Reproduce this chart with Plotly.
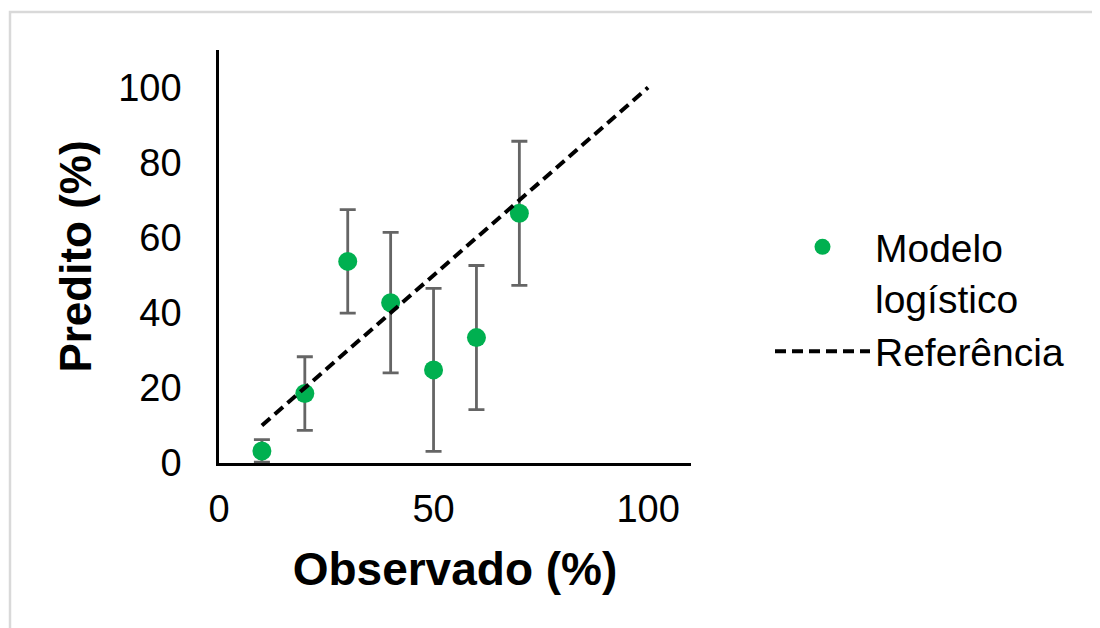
import plotly.graph_objects as go

# Data
observado = [10, 20, 30, 40, 50, 60, 70]
predito = [3.2, 18.5, 53.7, 42.7, 24.8, 33.4, 66.5]
erro = [3.0, 9.8, 13.8, 18.7, 21.7, 19.2, 19.2]
ref_x = [10, 100]
ref_y = [10, 100]
x_ticks = [0, 50, 100]
y_ticks = [0, 20, 40, 60, 80, 100]

FONT = "Liberation Sans, Arial, sans-serif"

fig = go.Figure()
fig.add_trace(go.Scatter(
    x=observado, y=predito, mode="markers", name="Modelo<br>logístico",
    legendgroup="a",
    marker=dict(color="#00b050", size=19),
    error_y=dict(type="data", array=erro, visible=True, color="#656565",
                 thickness=2.8, width=8),
    cliponaxis=False,
))
fig.add_trace(go.Scatter(
    x=ref_x, y=ref_y, mode="lines", name="Referência",
    legendgroup="b",
    line=dict(color="black", width=4, dash="11px,6px"),
))

# page body adds an 8px offset; figure coordinates = screen - 8
OFF = 8
FW, FH = 1100 - OFF, 628 - OFF
L, T = 219 - OFF, 50 - OFF
R = FW - (691 - OFF)
B = FH - (463 - OFF)
W, H = FW - L - R, FH - T - B

def px_x(p):
    return (p - OFF - L) / W

def px_y(p):
    return (FH - B - (p - OFF)) / H

fig.update_layout(
    width=FW, height=FH,
    margin=dict(l=L, r=R, t=T, b=B, autoexpand=False),
    paper_bgcolor="white", plot_bgcolor="white",
    font=dict(family=FONT, size=38, color="black"),
    showlegend=True,
    legend=dict(x=px_x(770), y=px_y(215), xanchor="left", yanchor="top",
                font=dict(size=39, color="black"), itemwidth=95,
                valign="top",
                bgcolor="rgba(0,0,0,0)", tracegroupgap=0),
    xaxis=dict(range=[0, 110], tickvals=x_ticks, showgrid=False, zeroline=False,
               showline=True, linecolor="black", linewidth=2.5,
               ticks="", ticklabelstandoff=11,
               tickfont=dict(size=38),
               title=dict(text="<b>Observado (%)</b>", font=dict(size=46), standoff=24)),
    yaxis=dict(range=[0, 110], tickvals=y_ticks, showgrid=False, zeroline=False,
               showline=True, linecolor="black", linewidth=2.5,
               ticks="", ticklabelstandoff=27,
               tickfont=dict(size=38),
               title=dict(text="<b>Predito (%)</b>", font=dict(size=44), standoff=13)),
    shapes=[dict(type="rect", xref="paper", yref="paper",
                 x0=px_x(10), x1=px_x(1130), y0=px_y(660), y1=px_y(12),
                 line=dict(color="#d9d9d9", width=2.5), fillcolor="rgba(0,0,0,0)",
                 layer="below")],
)

fig.write_html("out.html")
